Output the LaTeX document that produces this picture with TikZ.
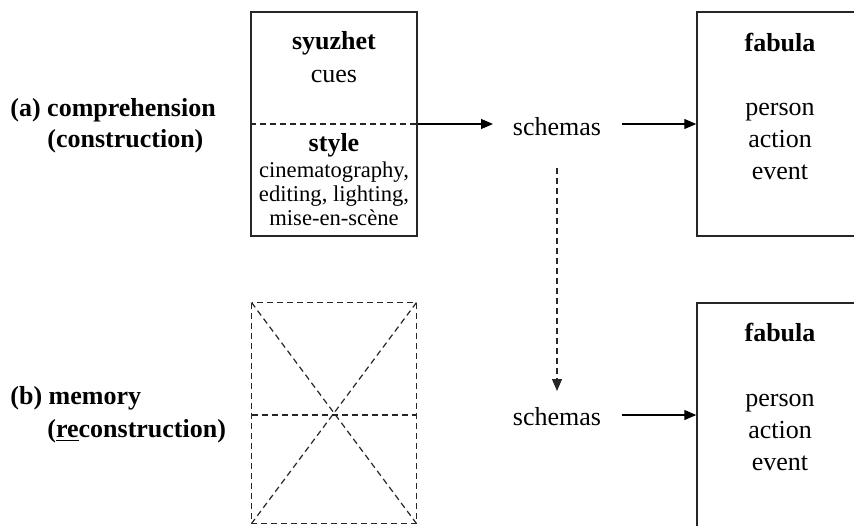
\documentclass[tikz,border=0pt]{standalone}
\usepackage{fontspec}
\setmainfont{Liberation Serif}
\usepackage{tikz}
\usetikzlibrary{arrows.meta}
\begin{document}
\begin{tikzpicture}[x=0.5pt,y=-0.5pt,
  every node/.style={font=\fontsize{13}{15}\selectfont, inner sep=0pt},
  panel/.style={draw=black!85, line width=0.75pt, minimum width=83pt, minimum height=112pt},
  ghost/.style={draw=black!85, line width=0.6pt, dash pattern=on 3pt off 2pt},
  flow/.style={line width=0.6pt, -{Triangle[length=6pt,width=5pt]}},
  caption/.style={anchor=west, font=\fontsize{13}{15}\selectfont\bfseries}]
\useasboundingbox (0,0) rectangle (854,525);
\clip (0,0) rectangle (854,525);

% Row (a): comprehension
\node[caption] (capa) at (10,110) {(a) comprehension};
\node[caption] (capa2) at (47,141) {(construction)};

\node[panel] (syu) at (334,124) {};
\draw[ghost] (syu.west) -- (syu.east);
\node[font=\fontsize{13}{15}\selectfont\bfseries] (syuname) at (334,43) {syuzhet};
\node (cues) at (334,76) {cues};
\node[font=\fontsize{13}{15}\selectfont\bfseries] (stylename) at (334,145) {style};
\node[align=center, font=\fontsize{11.3}{12}\selectfont] (styleitems) at (334,194)
  {cinematography,\\editing, lighting,\\mise-en-sc\`ene};

\node (scha) at (557,127) {schemas};
\coordinate (scha-in) at (493,124);
\coordinate (scha-out) at (622,124);
\coordinate (scha-down) at (557,168);

\node[panel] (faba) at (780,124) {};
\node[font=\fontsize{13}{15}\selectfont\bfseries] (fabaname) at (780,43) {fabula};
\node[align=center, font=\fontsize{13}{16}\selectfont] (fabaitems) at (780,141)
  {person\\action\\event};

\draw[flow] (syu.east) -- (scha-in);
\draw[flow] (scha-out) -- (faba.west);

% Row (b): memory
\node[caption] (capb) at (10,398) {(b) memory};
\node[caption] (capb2) at (47,431) {(\underline{re}construction)};

\node[minimum width=82pt, minimum height=110pt] (mem) at (334,413) {};
\draw[ghost] (mem.north west) rectangle (mem.south east);
\draw[ghost] (mem.north west) -- (mem.south east);
\draw[ghost] (mem.north east) -- (mem.south west);
\draw[ghost] (mem.west |- 0,415) -- (mem.east |- 0,415);

\node (schb) at (557,417) {schemas};
\coordinate (schb-up) at (557,391);
\coordinate (schb-out) at (622,415);
\node[panel] (fabb) at (780,415) {};
\node[font=\fontsize{13}{15}\selectfont\bfseries] (fabbname) at (780,332) {fabula};
\node[align=center, font=\fontsize{13}{16}\selectfont] (fabbitems) at (780,432)
  {person\\action\\event};

\draw[flow] (schb-out) -- (fabb.west);

% Memory link between the two schemas
\draw[ghost, -{Triangle[length=6pt,width=5pt]}] (scha-down) -- (schb-up);
\end{tikzpicture}
\end{document}
